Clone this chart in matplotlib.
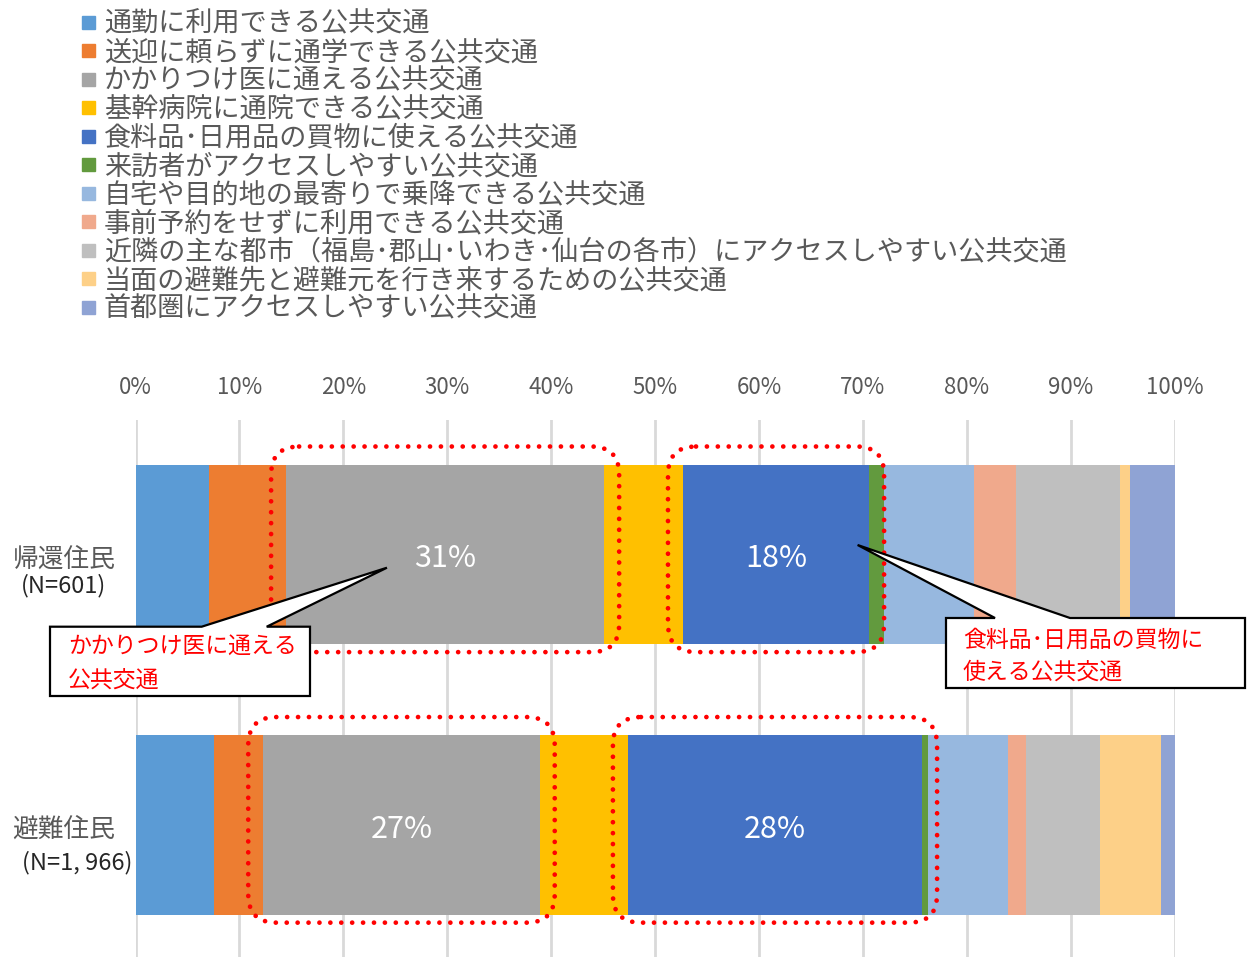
import numpy as np
import matplotlib.pyplot as plt
from matplotlib.patches import Rectangle, Polygon, FancyBboxPatch

plt.rcParams['font.family'] = ['Noto Sans CJK JP', 'DejaVu Sans']
narrow = ['Liberation Sans Narrow', 'Noto Sans CJK JP', 'DejaVu Sans']

# ---- data (percent of respondents) ----
categories = ['帰還住民', '避難住民']
sample_sizes = ['(N=601)', '(N=1, 966)']
series_names = ['通勤に利用できる公共交通',
                '送迎に頼らずに通学できる公共交通',
                'かかりつけ医に通える公共交通',
                '基幹病院に通院できる公共交通',
                '食料品･日用品の買物に使える公共交通',
                '来訪者がアクセスしやすい公共交通',
                '自宅や目的地の最寄りで乗降できる公共交通',
                '事前予約をせずに利用できる公共交通',
                '近隣の主な都市（福島･郡山･いわき･仙台の各市）にアクセスしやすい公共交通',
                '当面の避難先と避難元を行き来するための公共交通',
                '首都圏にアクセスしやすい公共交通']
returnees = [7.1, 7.4, 30.6, 7.6, 17.9, 1.4, 8.7, 4.0, 10.1, 0.9, 4.3]
evacuees = [7.6, 4.7, 26.6, 8.5, 28.3, 0.6, 7.7, 1.7, 7.1, 5.9, 1.3]
colors = ['#5B9BD5', '#ED7D31', '#A5A5A5', '#FFC000', '#4472C4', '#629A3E',
          '#97B8DF', '#F0A98C', '#BFBFBF', '#FDD088', '#8FA3D4']
highlight = [2, 4]   # series that get value labels and dotted frames
callout_texts = [['かかりつけ医に通える', '公共交通'],
                 ['食料品･日用品の買物に', '使える公共交通']]

W, H = 1249, 957
fig = plt.figure(figsize=(W / 100, H / 100), dpi=100)
ax = fig.add_axes([135.5 / W, 0, (1174.5 - 135.5) / W, (H - 420) / H])

data = np.array([returnees, evacuees])
y_pos = np.arange(len(categories))
bar_h = 0.662
lefts = np.zeros_like(data)
left = np.zeros(len(categories))
for i, name in enumerate(series_names):
    lefts[:, i] = left
    ax.barh(y_pos, data[:, i], left=left, height=bar_h, color=colors[i],
            label=name, zorder=2)
    left = left + data[:, i]

ax.set_xlim(0, 100)
ax.set_ylim(1.488, -0.497)
ax.xaxis.tick_top()
ticks = np.arange(0, 101, 10)
ax.set_xticks(ticks)
ax.set_xticklabels([f'{t}%' for t in ticks], family=narrow, fontsize=16,
                   color='#595959')
ax.tick_params(axis='x', length=0, pad=15)
ax.set_yticks([])
ax.grid(axis='x', color='#D9D9D9', linewidth=2, zorder=0)
ax.set_axisbelow(True)
for s in ax.spines.values():
    s.set_visible(False)

# value labels + dotted frames
px_x = (1174.5 - 135.5) / 100
px_y = (H - 420) / (1.488 + 0.497)
r_px = 28
for row in range(len(categories)):
    for i in highlight:
        x0 = lefts[row, i]
        w = data[row, i]
        ax.text(x0 + w / 2, y_pos[row] + 0.015, f'{w:.0f}%', color='white',
                ha='center', va='center', fontsize=22, family=narrow, zorder=4)
        pad = 1.45
        top = y_pos[row] - bar_h / 2 - 0.068
        bot = y_pos[row] + bar_h / 2 + 0.03
        box = FancyBboxPatch((x0 - pad, top), w + 2 * pad, bot - top,
                             boxstyle=f'round,pad=0,rounding_size={r_px / px_x}',
                             mutation_aspect=(r_px / px_y) / (r_px / px_x),
                             facecolor='none', edgecolor='#FF0000',
                             linewidth=3.4, linestyle=(0, (0.01, 2.3)),
                             capstyle='round', zorder=5, clip_on=False)
        ax.add_patch(box)


def to_px(x, y):
    dx, dy = ax.transData.transform((x, y))
    return dx, H - dy


# overlay in pixel coordinates for legend, row labels and callouts
ov = fig.add_axes([0, 0, 1, 1], zorder=10)
ov.set_xlim(0, W)
ov.set_ylim(H, 0)
ov.axis('off')

for i, name in enumerate(series_names):
    yc = 22 + 28.5 * i
    ov.add_patch(Rectangle((82, yc - 6.5), 13, 13, color=colors[i]))
    ov.text(104, yc + 2, name, va='center', ha='left', fontsize=19.5,
            color='#595959')

for row, (cat, n) in enumerate(zip(categories, sample_sizes)):
    _, yc = to_px(0, y_pos[row])
    ov.text(64, yc + 5, cat, ha='center', va='center', fontsize=18.5,
            color='#595959')
    ov.text(64 if row == 0 else 77, yc + (31 if row == 0 else 38), n,
            ha='center', va='center', fontsize=17, family=narrow,
            color='#262626')

# callouts: box (x0, y0, x1, y1), wedge base x positions, tip in data coords
callout_boxes = [(50, 626.7, 310, 696), (946, 618, 1245, 688)]
callout_bases = [(201.7, 266.7), (995, 1070)]
callout_tips = [(24.2, 0.049), (69.5, -0.035)]
line_pos = [[(68, 647), (68, 680)], [(963, 640), (963, 671.7)]]
for k in range(2):
    x0, y0, x1, y1 = callout_boxes[k]
    b0, b1 = callout_bases[k]
    tx, ty = to_px(*callout_tips[k])
    verts = [(x0, y0), (b0, y0), (tx, ty), (b1, y0), (x1, y0), (x1, y1), (x0, y1)]
    ov.add_patch(Polygon(verts, closed=True, facecolor='white',
                         edgecolor='black', linewidth=1.6, joinstyle='miter'))
    for (lx, ly), line in zip(line_pos[k], callout_texts[k]):
        ov.text(lx, ly, line, ha='left', va='center', fontsize=16.5,
                color='#FF0000')

fig.savefig('out.png', dpi=100)
